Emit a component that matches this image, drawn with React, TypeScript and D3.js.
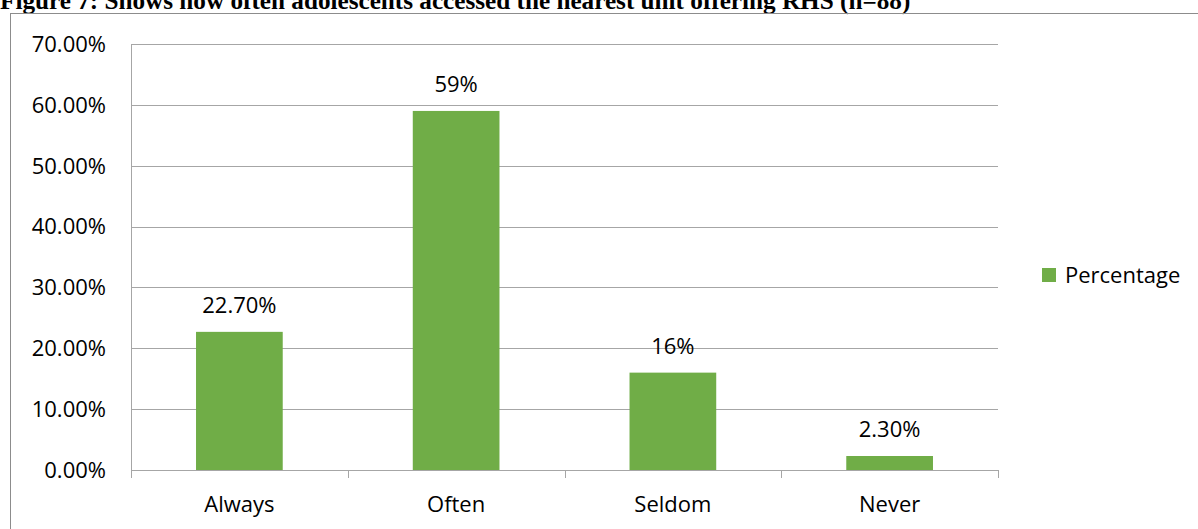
import React from "react";
import * as d3 from "d3";

const categories = ["Always", "Often", "Seldom", "Never"];
const values = [22.7, 59, 16, 2.3];
const valueLabels = ["22.70%", "59%", "16%", "2.30%"];
const yTicks = [0, 10, 20, 30, 40, 50, 60, 70];
const seriesName = "Percentage";
const title = "Figure 7: Shows how often adolescents accessed the nearest unit offering RHS (n=88)";

const W = 1198;
const H = 529;
const plot = { left: 131, right: 998, top: 44, bottom: 470 };
const GREEN = "#70AD47";
const FONT = "'Open Sans', 'Liberation Sans', sans-serif";
const FS = 22;

export default function App() {
  const x = d3.scaleBand<string>().domain(categories).range([plot.left, plot.right]).paddingInner(0.6).paddingOuter(0.3);
  const xb = d3.scaleBand<string>().domain(categories).range([plot.left, plot.right]);
  const y = d3.scaleLinear().domain([0, 70]).range([plot.bottom, plot.top]);
  const boundaries = [plot.left, ...categories.map((c) => (xb(c) as number) + xb.bandwidth())];

  return (
    <svg width={W} height={H} style={{ position: "absolute", left: 0, top: 0, background: "#fff" }}>
      <text x={0} y={9} fontFamily="'Liberation Serif', 'Times New Roman', serif" fontWeight="bold" fontSize={25.2} fill="#000">
        {title}
      </text>
      <rect x={10.5} y={13.5} width={W} height={H} fill="none" stroke="#8c8c8c" strokeWidth={1} />
      {yTicks.map((t) => (
        <g key={t}>
          <line x1={plot.left} x2={plot.right} y1={Math.round(y(t)) + 0.5} y2={Math.round(y(t)) + 0.5} stroke="#a6a6a6" strokeWidth={1} />
          <text x={106} y={y(t)} dy="0.36em" textAnchor="end" fontFamily={FONT} fontSize={FS} fill="#000">
            {t.toFixed(2)}%
          </text>
        </g>
      ))}
      {categories.map((c, i) => (
        <g key={c}>
          <rect x={x(c)} y={y(values[i])} width={x.bandwidth()} height={plot.bottom - y(values[i])} fill={GREEN} />
          <text x={(x(c) as number) + x.bandwidth() / 2} y={y(values[i]) - 19} textAnchor="middle" fontFamily={FONT} fontSize={FS} fill="#000">
            {valueLabels[i]}
          </text>
          <text x={(xb(c) as number) + xb.bandwidth() / 2} y={512} textAnchor="middle" fontFamily={FONT} fontSize={FS} fill="#000">
            {c}
          </text>
        </g>
      ))}
      <line x1={plot.left + 0.5} x2={plot.left + 0.5} y1={plot.top} y2={plot.bottom} stroke="#a6a6a6" />
      <line x1={plot.left} x2={plot.right} y1={plot.bottom + 0.5} y2={plot.bottom + 0.5} stroke="#a6a6a6" />
      {boundaries.map((b, i) => (
        <line key={i} x1={Math.round(b) + 0.5} x2={Math.round(b) + 0.5} y1={plot.bottom} y2={plot.bottom + 8} stroke="#a6a6a6" />
      ))}
      <rect x={1042} y={268} width={14} height={14} fill={GREEN} />
      <text x={1065} y={275} dy="0.36em" fontFamily={FONT} fontSize={FS} fill="#000">
        {seriesName}
      </text>
    </svg>
  );
}
